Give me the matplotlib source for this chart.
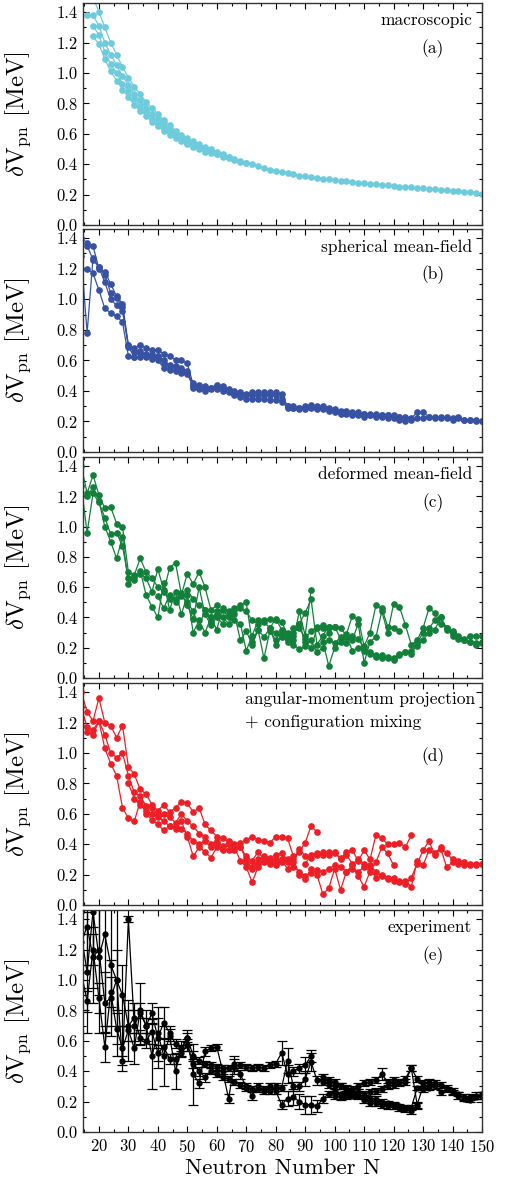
import numpy as np
import matplotlib
matplotlib.use("Agg")
import matplotlib.pyplot as plt
from matplotlib.ticker import MultipleLocator

plt.rcParams['font.family'] = 'serif'
plt.rcParams['font.serif'] = ['cmr10']
plt.rcParams['mathtext.fontset'] = 'cm'
plt.rcParams['axes.formatter.use_mathtext'] = True
plt.rcParams['axes.unicode_minus'] = False

# ---------------------------------------------------------------------------
# data: each series = (first N, values at N, N+2, N+4, ...)

# (a) macroscopic
A1 = (16, [1.62, 1.50, 1.40, 1.30, 1.20, 1.12, 1.04, 0.97, 0.91, 0.86, 0.81, 0.77,
           0.73, 0.69, 0.66, 0.62, 0.59, 0.57, 0.55, 0.53, 0.51, 0.50, 0.48, 0.465,
           0.45, 0.435, 0.42, 0.41, 0.40, 0.385, 0.375, 0.365, 0.355, 0.35, 0.34,
           0.335, 0.325, 0.32, 0.315, 0.31, 0.305, 0.30, 0.295, 0.29, 0.287, 0.283,
           0.279, 0.275, 0.272, 0.268, 0.264, 0.26, 0.257, 0.253, 0.25, 0.247,
           0.244, 0.241, 0.237, 0.234, 0.231, 0.228, 0.225, 0.221, 0.218, 0.214,
           0.21, 0.205])
A2 = (16, [1.38, 1.38, 1.31, 1.20, 1.12, 1.05, 0.98, 0.92, 0.86, 0.82, 0.77, 0.73,
           0.70, 0.66, 0.63, 0.60, 0.58, 0.555, 0.535, 0.52, 0.50, 0.485, 0.47,
           0.455, 0.445, 0.43, 0.415, 0.405])
A3 = (18, [1.31, 1.25, 1.14, 1.06, 1.00, 0.93, 0.88, 0.83, 0.78, 0.74, 0.70, 0.67,
           0.64, 0.61, 0.585, 0.565, 0.54, 0.525, 0.51, 0.49, 0.475, 0.465, 0.45,
           0.44])
A4 = (18, [1.24, 1.19, 1.09, 1.01, 0.95, 0.89, 0.84, 0.79, 0.75, 0.72, 0.68, 0.65,
           0.62, 0.595, 0.57, 0.55, 0.53, 0.515, 0.50, 0.48])

# (b) spherical mean-field
B1 = (14, [1.40, 1.37, 1.35, 1.20, 1.18, 1.10, 1.02, 0.97, 0.70, 0.68, 0.70, 0.68,
           0.67, 0.67, 0.64, 0.63, 0.60, 0.60, 0.58, 0.44, 0.44, 0.43, 0.42, 0.44,
           0.43, 0.41, 0.40, 0.39, 0.38, 0.39, 0.39, 0.39, 0.39, 0.39, 0.38, 0.30,
           0.30, 0.29, 0.30, 0.31, 0.30, 0.30, 0.29, 0.28, 0.27, 0.27, 0.26, 0.26,
           0.25, 0.25, 0.25, 0.24, 0.24, 0.24, 0.23, 0.23, 0.22, 0.26, 0.26, 0.23,
           0.23, 0.23, 0.22, 0.22, 0.23, 0.21, 0.21, 0.21, 0.20])
B2 = (14, [1.28, 0.78, 1.27, 1.21, 1.16, 1.04, 1.01, 0.95, 0.69, 0.62, 0.66, 0.63,
           0.63, 0.63, 0.60, 0.56, 0.56, 0.55, 0.53, 0.42, 0.42, 0.41, 0.42, 0.43,
           0.42, 0.40, 0.38, 0.38, 0.37, 0.37, 0.37, 0.37, 0.37, 0.37, 0.35, 0.30,
           0.29, 0.29, 0.29, 0.30, 0.29, 0.29, 0.28, 0.27, 0.26, 0.26, 0.25, 0.25,
           0.25, 0.24, 0.24, 0.24, 0.24, 0.23, 0.23, 0.22, 0.21, 0.22, 0.22, 0.23,
           0.22, 0.22, 0.23, 0.21, 0.22, 0.21, 0.21, 0.20, 0.20])
B3 = (14, [1.20, 1.20, 1.17, 1.06, 0.94, 0.91, 0.89, 0.85, 0.63, 0.62, 0.62, 0.62,
           0.61, 0.60, 0.55, 0.54, 0.53, 0.52, 0.51, 0.43, 0.41, 0.40, 0.41, 0.41,
           0.40, 0.39, 0.37, 0.36, 0.35, 0.35, 0.35, 0.35, 0.34, 0.34, 0.33, 0.29,
           0.29, 0.28, 0.28, 0.29, 0.28, 0.28, 0.27, 0.26, 0.25, 0.25, 0.24, 0.24,
           0.23, 0.24, 0.23, 0.23, 0.22, 0.22, 0.21, 0.20])
B4 = (16, [1.35, 1.26, 1.21, 1.11, 1.00, 0.96, 0.92, 0.70, 0.66, 0.65, 0.64, 0.64,
           0.62, 0.58, 0.57, 0.55, 0.54, 0.52, 0.45, 0.43, 0.42])

# (c) deformed mean-field
C1 = (14, [1.40, 1.22, 1.34, 1.21, 1.12, 1.13, 1.02, 1.00, 0.70, 0.68, 0.79, 0.70,
           0.66, 0.60, 0.57, 0.73, 0.76, 0.55, 0.69, 0.62, 0.70, 0.60, 0.45, 0.48])
C2 = (14, [1.27, 0.96, 1.22, 1.16, 1.06, 0.95, 0.96, 0.87, 0.66, 0.65, 0.71, 0.55,
           0.47, 0.40, 0.63, 0.45, 0.57, 0.42, 0.55, 0.30, 0.38, 0.30, 0.40, 0.32,
           0.46, 0.44, 0.46, 0.48, 0.50, 0.24, 0.32, 0.13, 0.31, 0.25, 0.31, 0.30,
           0.25, 0.44, 0.28, 0.58])
C3 = (14, [1.20, 1.20, 1.26, 1.17, 1.00, 0.90, 0.79, 0.93, 0.62, 0.67, 0.69, 0.66,
           0.57, 0.72, 0.58, 0.52, 0.52, 0.56, 0.48, 0.39, 0.60, 0.42, 0.35, 0.40,
           0.36, 0.42, 0.38, 0.36, 0.18, 0.28, 0.38, 0.38, 0.39, 0.38, 0.37, 0.29,
           0.28, 0.36, 0.43, 0.52, 0.22, 0.28, 0.34, 0.34, 0.26, 0.29, 0.41, 0.39,
           0.21, 0.30, 0.48, 0.46, 0.34, 0.33, 0.31])
C4 = (40, [0.54, 0.46, 0.55, 0.50, 0.54, 0.50, 0.44, 0.34, 0.45, 0.37, 0.44, 0.40,
           0.36, 0.42, 0.25, 0.31, 0.22, 0.32, 0.27, 0.33, 0.22, 0.28, 0.26, 0.33,
           0.36, 0.24, 0.20, 0.33, 0.24, 0.08, 0.20, 0.24, 0.27, 0.25, 0.36, 0.10,
           0.24, 0.27, 0.44, 0.30, 0.49, 0.47, 0.35, 0.22, 0.25, 0.33, 0.46, 0.43,
           0.36, 0.33, 0.31, 0.28, 0.26, 0.28, 0.28, 0.28])
C5 = (80, [0.30, 0.27, 0.24, 0.22, 0.19, 0.21, 0.25, 0.17, 0.20, 0.25, 0.23, 0.27,
           0.23, 0.28, 0.26, 0.20, 0.17, 0.15, 0.15, 0.13, 0.13, 0.15, 0.17, 0.18,
           0.21, 0.25, 0.30, 0.32, 0.40, 0.32, 0.30, 0.27, 0.25, 0.24, 0.23, 0.23])
C6 = (96, [0.33, 0.34, 0.34, 0.33, 0.28, 0.18, 0.20, 0.18, 0.16, 0.14, 0.13, 0.14,
           0.12, 0.16, 0.17, 0.16, 0.23, 0.30, 0.33, 0.38, 0.40, 0.33, 0.28, 0.26,
           0.25, 0.24, 0.22, 0.24])
C7 = (50, [0.58, 0.52, 0.48, 0.45, 0.40, 0.42, 0.45, 0.40, 0.45, 0.46, 0.44, 0.38,
           0.36, 0.37, 0.33, 0.39, 0.32, 0.29, 0.30, 0.33, 0.26, 0.31, 0.34, 0.35,
           0.30, 0.34])

# (d) angular-momentum projection + configuration mixing
D1 = (14, [1.40, 1.27, 1.21, 1.36, 1.20, 1.18, 1.10, 1.18, 0.91, 0.86, 0.76, 0.73,
           0.66, 0.62, 0.66, 0.61, 0.64, 0.68, 0.67, 0.61, 0.64, 0.53, 0.49, 0.45,
           0.44, 0.42, 0.40, 0.41, 0.43, 0.45, 0.43, 0.42, 0.41, 0.45, 0.45, 0.44,
           0.32, 0.35, 0.41, 0.52, 0.48])
D2 = (14, [1.30, 1.17, 1.15, 1.21, 1.12, 1.00, 0.97, 1.00, 0.85, 0.74, 0.72, 0.65,
           0.64, 0.59, 0.60, 0.58, 0.54, 0.60, 0.55, 0.52, 0.47, 0.45, 0.40, 0.42,
           0.39, 0.41, 0.38, 0.38, 0.32, 0.29, 0.35, 0.30, 0.31, 0.33, 0.34, 0.30,
           0.28, 0.37, 0.32, 0.31, 0.33, 0.35, 0.33, 0.35, 0.30, 0.35, 0.36, 0.29,
           0.36, 0.30, 0.46, 0.44, 0.40, 0.40, 0.41, 0.38, 0.46])
D3 = (14, [1.22, 1.14, 1.12, 1.21, 1.03, 0.93, 0.85, 0.64, 0.57, 0.55, 0.68, 0.60,
           0.56, 0.53, 0.49, 0.52, 0.50, 0.55, 0.45, 0.32, 0.38, 0.35, 0.31, 0.38,
           0.37, 0.36, 0.38, 0.29, 0.25, 0.15, 0.25, 0.28, 0.30, 0.26, 0.29, 0.24,
           0.30, 0.20, 0.17, 0.24, 0.20, 0.07, 0.11, 0.24, 0.10, 0.22, 0.26, 0.19,
           0.12, 0.22, 0.28, 0.38, 0.34, 0.26])
D4 = (70, [0.28, 0.25, 0.27, 0.29, 0.27, 0.30, 0.28, 0.28, 0.25, 0.22, 0.19, 0.21,
           0.23, 0.22, 0.24, 0.26, 0.25, 0.22, 0.24, 0.22, 0.25, 0.24, 0.18, 0.20,
           0.17, 0.18, 0.16, 0.16, 0.12, 0.29, 0.26, 0.36, 0.34, 0.38, 0.34, 0.30,
           0.29, 0.28, 0.27, 0.27, 0.27])
D5 = (90, [0.27, 0.33, 0.34, 0.33, 0.35, 0.34, 0.31, 0.33, 0.27, 0.30, 0.27, 0.26,
           0.22, 0.19, 0.18, 0.16, 0.15, 0.14, 0.18, 0.27, 0.36, 0.42, 0.33, 0.37,
           0.25, 0.28, 0.27, 0.26, 0.26, 0.26, 0.27])
D6 = (30, [0.80, 0.70, 0.66, 0.62, 0.60, 0.58, 0.55, 0.52, 0.51, 0.50, 0.47, 0.42,
           0.40, 0.42, 0.38, 0.40, 0.36, 0.40, 0.36, 0.38, 0.30, 0.24, 0.30, 0.32,
           0.28, 0.27, 0.30])

# (e) experiment, values and uncertainties
E1 = (14, [1.30, 1.05, 1.45, 1.15, 1.30, 1.10, 1.00, 0.47, 1.40, 0.70, 0.78, 0.70,
           0.78, 0.62, 0.72, 0.65, 0.58, 0.55, 0.62, 0.50, 0.47, 0.45, 0.44, 0.43,
           0.42, 0.42, 0.43, 0.44, 0.43, 0.42, 0.43, 0.42, 0.44, 0.45, 0.52, 0.38,
           0.40, 0.42, 0.44, 0.50])
E1_ERR = [0.30, 0.40, 0.60, 0.50, 0.60, 0.40, 0.50, 0.03, 0.02, 0.10, 0.20, 0.10,
          0.07, 0.20, 0.10, 0.05, 0.03, 0.02, 0.03, 0.03, 0.02, 0.02, 0.02, 0.02,
          0.02, 0.02, 0.05, 0.02, 0.02, 0.02, 0.02, 0.02, 0.02, 0.02, 0.08, 0.06,
          0.03, 0.03, 0.05, 0.04]
E2 = (14, [1.05, 0.86, 1.20, 0.88, 0.56, 0.92, 0.68, 0.55, 0.67, 0.55, 0.80, 0.70,
           0.50, 0.65, 0.50, 0.63, 0.40, 0.55, 0.62, 0.38, 0.32, 0.53, 0.55, 0.56,
           0.40, 0.22, 0.45, 0.38, 0.29, 0.24, 0.30, 0.28, 0.30, 0.27, 0.18, 0.22,
           0.23, 0.20, 0.18, 0.18, 0.17, 0.22, 0.25, 0.24, 0.23, 0.24, 0.25, 0.24,
           0.21, 0.19, 0.19, 0.18, 0.17, 0.17, 0.16, 0.15, 0.14, 0.17])
E2_ERR = [0.25, 0.07, 0.10, 0.10, 0.10, 0.10, 0.10, 0.15, 0.20, 0.10, 0.05, 0.05,
          0.22, 0.10, 0.20, 0.05, 0.12, 0.05, 0.05, 0.20, 0.03, 0.03, 0.02, 0.02,
          0.03, 0.03, 0.05, 0.03, 0.02, 0.03, 0.02, 0.02, 0.02, 0.02, 0.03, 0.05,
          0.05, 0.05, 0.06, 0.06, 0.04, 0.03, 0.02, 0.02, 0.02, 0.02, 0.02, 0.02,
          0.02, 0.02, 0.02, 0.02, 0.02, 0.02, 0.02, 0.02, 0.02, 0.02]
E3 = (14, [1.25, 1.35, 1.15, 1.20, 0.85, 0.88, 1.00, 0.90, 0.70, 0.75, 0.62, 0.60,
           0.66, 0.52, 0.56, 0.48, 0.48, 0.52, 0.57, 0.45, 0.40, 0.36, 0.40, 0.38,
           0.36, 0.35, 0.33, 0.31, 0.30, 0.28, 0.28, 0.27, 0.27, 0.30, 0.29, 0.47,
           0.30, 0.30, 0.35, 0.46, 0.34, 0.33, 0.31, 0.30, 0.30, 0.29, 0.28, 0.30,
           0.32, 0.33, 0.34, 0.38, 0.33, 0.34, 0.33, 0.35, 0.42, 0.18, 0.30])
E3_ERR = [0.30, 0.25, 0.20, 0.30, 0.20, 0.25, 0.20, 0.20, 0.10, 0.10, 0.05, 0.05,
          0.08, 0.05, 0.05, 0.03, 0.03, 0.03, 0.04, 0.03, 0.03, 0.03, 0.02, 0.02,
          0.02, 0.02, 0.02, 0.02, 0.02, 0.02, 0.02, 0.02, 0.02, 0.02, 0.02, 0.08,
          0.03, 0.03, 0.05, 0.06, 0.03, 0.02, 0.02, 0.02, 0.02, 0.02, 0.02, 0.02,
          0.02, 0.02, 0.02, 0.04, 0.02, 0.02, 0.02, 0.02, 0.02, 0.02, 0.02]
E4 = (96, [0.36, 0.34, 0.33, 0.30, 0.28, 0.27, 0.26, 0.25, 0.26, 0.27, 0.28, 0.30,
           0.31, 0.32, 0.33, 0.42, 0.35, 0.32, 0.33, 0.32, 0.31, 0.29, 0.27, 0.24,
           0.23, 0.23, 0.24, 0.24])
E4_ERR = [0.02] * len(E4[1])
E5 = (100, [0.27, 0.25, 0.24, 0.24, 0.24, 0.23, 0.22, 0.22, 0.20, 0.19, 0.18, 0.17,
            0.16, 0.16, 0.29, 0.28, 0.29, 0.30, 0.26, 0.28, 0.26, 0.25, 0.22, 0.21,
            0.23, 0.25])
E5_ERR = [0.015] * len(E5[1])

PANELS = [
    ("macroscopic", "(a)", "#6dcbdb", [A1, A2, A3, A4]),
    ("spherical mean-field", "(b)", "#3752a3", [B1, B2, B3, B4]),
    ("deformed mean-field", "(c)", "#12803a", [C1, C2, C3, C4, C5, C6, C7]),
    ("angular-momentum projection\n+ configuration mixing", "(d)", "#ec1f26",
     [D1, D2, D3, D4, D5, D6]),
    ("experiment", "(e)", "black", [E1, E2, E3, E4, E5]),
]
ERRS = [E1_ERR, E2_ERR, E3_ERR, E4_ERR, E5_ERR]

# panel pixel extents (top, bottom) in a 505x1183 figure
EXTENTS = [(3, 225), (229, 452), (457, 678), (683, 905), (910, 1132)]


def series_xy(s):
    n0, vals = s
    return np.arange(n0, n0 + 2 * len(vals), 2), np.array(vals)


fig = plt.figure(figsize=(5.05, 11.83), dpi=100)
W, H = 505.0, 1183.0
for k, ((label, tag, color, series), (top, bot)) in enumerate(zip(PANELS, EXTENTS)):
    ax = fig.add_axes([83 / W, 1 - bot / H, 399 / W, (bot - top) / H])
    for j, s in enumerate(series):
        x, y = series_xy(s)
        if k == 4:
            ax.errorbar(x, y, yerr=ERRS[j], color=color, marker='o', ms=3.5,
                        lw=0.9, elinewidth=0.9, capsize=3.5, capthick=0.9)
        else:
            ax.plot(x, y, color=color, marker='o', ms=3.8, lw=0.9)

    ax.set_xlim(14.6, 150)
    ax.set_ylim(0, 1.46)
    ax.xaxis.set_major_locator(MultipleLocator(10))
    ax.xaxis.set_minor_locator(MultipleLocator(5))
    ax.yaxis.set_major_locator(MultipleLocator(0.2))
    ax.yaxis.set_minor_locator(MultipleLocator(0.1))
    ax.tick_params(which='both', direction='in', top=True, right=True,
                   labelsize=12, width=0.8)
    ax.tick_params(which='major', length=4, pad=4)
    ax.tick_params(which='minor', length=2)
    ax.yaxis.set_major_formatter(plt.FormatStrFormatter('%.1f'))
    for sp in ax.spines.values():
        sp.set_linewidth(1.0)
        sp.set_color('#333333')
    if k < 4:
        ax.tick_params(labelbottom=False)
    else:
        ax.set_xlabel("Neutron Number N", fontsize=16.5, labelpad=3)

    ax.set_ylabel(r"$\delta\mathrm{V}_{\mathrm{pn}}$ [MeV]", fontsize=18)
    ax.yaxis.set_label_coords(-0.125, 0.5)

    if k == 3:
        ax.text(0.406, 0.925, "angular-momentum projection", transform=ax.transAxes,
                ha='left', va='center', fontsize=12.5)
        ax.text(0.406, 0.825, "+ configuration mixing", transform=ax.transAxes,
                ha='left', va='center', fontsize=12.5)
        ax.text(0.877, 0.67, tag, transform=ax.transAxes, ha='center',
                va='center', fontsize=12.5)
    else:
        ax.text(0.975, 0.92, label, transform=ax.transAxes, ha='right',
                va='center', fontsize=12.5)
        ax.text(0.877, 0.795, tag, transform=ax.transAxes, ha='center',
                va='center', fontsize=12.5)

fig.savefig("out.png", dpi=100)
